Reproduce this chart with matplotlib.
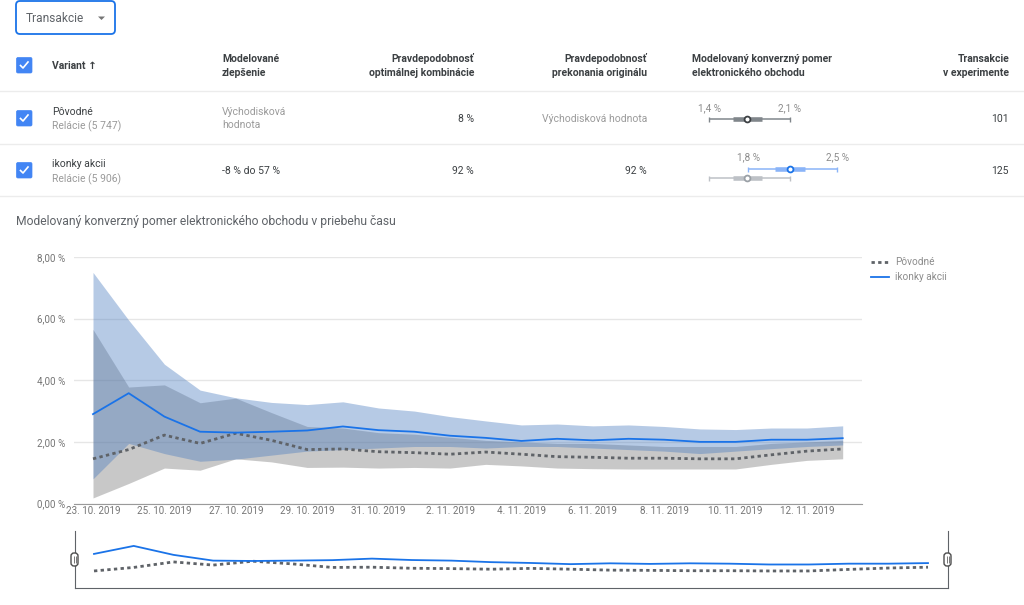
import numpy as np
import matplotlib.pyplot as plt
from matplotlib.patches import FancyBboxPatch

plt.rcParams['font.family'] = ['Roboto', 'DejaVu Sans']

W, H = 1024, 605  # size of the screenshot in pixels

# values, one per day from 23. 10. 2019
povodne = [1.45, 1.75, 2.22, 1.95, 2.28, 2.05, 1.75, 1.77, 1.68, 1.65, 1.60,
           1.67, 1.60, 1.52, 1.50, 1.47, 1.47, 1.45, 1.45, 1.58, 1.70, 1.77]
povodne_up = [5.65, 3.78, 3.85, 3.27, 3.42, 2.95, 2.50, 2.45, 2.30, 2.25, 2.15,
              2.05, 2.00, 1.95, 1.95, 1.90, 1.85, 1.85, 1.85, 1.95, 2.00, 2.05]
povodne_low = [0.18, 0.65, 1.15, 1.08, 1.45, 1.35, 1.17, 1.18, 1.15, 1.17, 1.15,
               1.27, 1.22, 1.15, 1.13, 1.12, 1.12, 1.12, 1.12, 1.27, 1.40, 1.45]
ikonky = [2.90, 3.58, 2.82, 2.33, 2.30, 2.33, 2.37, 2.50, 2.38, 2.33, 2.20,
          2.13, 2.03, 2.10, 2.05, 2.10, 2.07, 2.00, 2.00, 2.07, 2.07, 2.12]
ikonky_up = [7.50, 5.95, 4.52, 3.68, 3.43, 3.28, 3.21, 3.30, 3.10, 3.00, 2.82,
             2.68, 2.55, 2.58, 2.52, 2.55, 2.50, 2.42, 2.40, 2.45, 2.45, 2.52]
ikonky_low = [0.80, 1.95, 1.62, 1.37, 1.44, 1.57, 1.70, 1.75, 1.80, 1.85, 1.85,
              1.80, 1.85, 1.85, 1.80, 1.75, 1.70, 1.62, 1.70, 1.78, 1.85, 1.90]
dates = ["23. 10. 2019", "25. 10. 2019", "27. 10. 2019", "29. 10. 2019", "31. 10. 2019",
         "2. 11. 2019", "4. 11. 2019", "6. 11. 2019", "8. 11. 2019", "10. 11. 2019", "12. 11. 2019"]

# text of the table: x, y, text, align, color, weight
GREY = '#9a9a9a'
DARK = '#3c4043'
table_text = [
    (52, 65, "Variant ↑", 'left', DARK, 'bold'),
    (222, 58, "Modelované", 'left', DARK, 'bold'),
    (222, 72, "zlepšenie", 'left', DARK, 'bold'),
    (474, 58, "Pravdepodobnosť", 'right', DARK, 'bold'),
    (474, 72, "optimálnej kombinácie", 'right', DARK, 'bold'),
    (647, 58, "Pravdepodobnosť", 'right', DARK, 'bold'),
    (647, 72, "prekonania originálu", 'right', DARK, 'bold'),
    (692, 58, "Modelovaný konverzný pomer", 'left', DARK, 'bold'),
    (692, 72, "elektronického obchodu", 'left', DARK, 'bold'),
    (1009, 58, "Transakcie", 'right', DARK, 'bold'),
    (1009, 72, "v experimente", 'right', DARK, 'bold'),
    (52, 111, "Pôvodné", 'left', DARK, 'normal'),
    (52, 125, "Relácie (5 747)", 'left', GREY, 'normal'),
    (222, 111, "Východisková", 'left', GREY, 'normal'),
    (222, 124, "hodnota", 'left', GREY, 'normal'),
    (474, 118, "8 %", 'right', DARK, 'normal'),
    (647, 118, "Východisková hodnota", 'right', GREY, 'normal'),
    (1009, 118, "101", 'right', DARK, 'normal'),
    (52, 163, "ikonky akcii", 'left', DARK, 'normal'),
    (52, 178, "Relácie (5 906)", 'left', GREY, 'normal'),
    (222, 170, "-8 % do 57 %", 'left', DARK, 'normal'),
    (474, 170, "92 %", 'right', DARK, 'normal'),
    (647, 170, "92 %", 'right', DARK, 'normal'),
    (1009, 170, "125", 'right', DARK, 'normal'),
]

# intervals of the small range plots: low, q1, median, q3, high, y row, line, box, edge
intervals = [
    (1.40, 1.61, 1.73, 1.86, 2.10, 119, '#80868b', '#80868b', '#3c4043'),
    (1.74, 1.97, 2.10, 2.23, 2.51, 169, '#8ab4f8', '#8ab4f8', '#1a73e8'),
    (1.40, 1.61, 1.73, 1.86, 2.10, 178, '#bdc1c6', '#bdc1c6', '#9aa0a6'),
]


def axes_px(left, top, right, bottom):
    # axes given in pixels of the screenshot, y going down
    return plt.axes([left / W, 1 - bottom / H, (right - left) / W, (bottom - top) / H])


def draw_table():
    """
    Dropdown, checkboxes, separators and text above the chart.
    """
    ax = axes_px(0, 0, W, H)
    plt.xlim(0, W)
    plt.ylim(H, 0)
    plt.axis('off')

    ax.add_patch(FancyBboxPatch((16, 1), 99, 33, boxstyle="round,pad=0,rounding_size=4",
                                fc='white', ec='#1a73e8', lw=1.3))
    plt.text(26, 18, "Transakcie", fontsize=8.6, color='#5f6368', va='center')
    plt.fill([98, 105, 101.5], [16.5, 16.5, 20], color='#757575', lw=0)

    for y in [91, 144, 196]:
        plt.plot([0, W], [y, y], color='#ececec', lw=1)  # row separators

    for y in [57, 110, 162]:
        ax.add_patch(FancyBboxPatch((16.5, y + 0.5), 15.5, 15.5, boxstyle="round,pad=0,rounding_size=1.5",
                                    fc='#4285f4', ec='#4285f4', lw=0.5))
        plt.plot([20.5, 23, 28], [y + 8.5, y + 11, y + 5], color='white', lw=1.2)

    for x, y, s, ha, color, weight in table_text:
        plt.text(x, y + 0.8, s, fontsize=7.5, ha=ha, va='center', color=color, fontweight=weight)

    plt.text(16, 221, "Modelovaný konverzný pomer elektronického obchodu v priebehu času",
             fontsize=8.7, color='#5f6368', va='center')

    # legend of the chart
    plt.plot([871, 889], [262, 262], color='#5f6368', lw=2, linestyle=(0, (1.2, 1.2)))
    plt.plot([871, 889], [277, 277], color='#1a73e8', lw=1.3)
    plt.text(895, 262, "Pôvodné", fontsize=7.2, color='#8c8c8c', va='center')
    plt.text(895, 277, "ikonky akcii", fontsize=7.2, color='#8c8c8c', va='center')


def draw_intervals():
    """
    Small range plots of the table, x axis in percent.
    """
    scale = 115.7  # pixels for 1 %
    axes_px(700, 100, 850, 190)
    plt.xlim(1.4 - 9 / scale, 1.4 + 141 / scale)
    plt.ylim(190, 100)
    plt.axis('off')
    for low, q1, med, q3, high, y, line, box, edge in intervals:
        plt.hlines(y, low, high, color=line, lw=1.1)
        plt.vlines([low, high], y - 2.5, y + 2.5, color=line, lw=1)
        plt.hlines(y, q1, q3, color=box, lw=3.3)
        plt.plot(med, y, 'o', ms=4.2, mfc='white', mec=edge, mew=1.3)
    for val, label, y in [(1.4, "1,4 %", 108), (2.1, "2,1 %", 108), (1.74, "1,8 %", 157), (2.51, "2,5 %", 157)]:
        plt.text(val, y, label, fontsize=7.2, ha='center', va='center', color='#8c8c8c')


def draw_main():
    """
    Chart with the two bands and the two lines.
    """
    days = np.arange(len(povodne))
    axes_px(74, 257, 862, 503.5)
    plt.fill_between(days, povodne_low, povodne_up, color='#646464', alpha=0.35, lw=0)
    plt.fill_between(days, ikonky_low, ikonky_up, color='#4a7cc0', alpha=0.4, lw=0)
    plt.plot(days, povodne, color='#5f6368', lw=2, linestyle=(0, (1.2, 1.2)))
    plt.plot(days, ikonky, color='#1a73e8', lw=1.3)

    plt.xlim(-19 / 35.7, 769 / 35.7)
    plt.ylim(0, 8)
    plt.yticks([0, 2, 4, 6, 8], ["0,00 %", "2,00 %", "4,00 %", "6,00 %", "8,00 %"])
    plt.xticks(days[::2], dates)
    plt.tick_params(length=0, labelsize=7.1, labelcolor='#757575')
    plt.tick_params(axis='x', pad=1.5)
    plt.tick_params(axis='y', pad=6.5)
    plt.grid(axis='y', color='#e6e6e6', lw=1)
    plt.gca().set_axisbelow(True)
    for side in ['top', 'left', 'right']:
        plt.gca().spines[side].set_visible(False)
    plt.gca().spines['bottom'].set_color('#9a9a9a')


def draw_overview():
    """
    Range selector below the chart.
    """
    days = np.arange(len(povodne))
    scale = 834 / 21  # pixels for one day
    axes_px(75, 531, 947.5, 588)
    plt.plot(days, povodne, color='#5f6368', lw=2, linestyle=(0, (1.2, 1.2)))
    plt.plot(days, ikonky, color='#1a73e8', lw=1.3)
    plt.xlim(-19 / scale, 853.5 / scale)
    plt.ylim(0, 4.85)
    plt.xticks([])
    plt.yticks([])
    plt.gca().spines['top'].set_visible(False)
    for side in ['left', 'right', 'bottom']:
        plt.gca().spines[side].set_color('#5f6368')

    # handles of the selector
    ax = axes_px(0, 0, W, H)
    plt.xlim(0, W)
    plt.ylim(H, 0)
    plt.axis('off')
    for x in [74.5, 947.5]:
        ax.add_patch(FancyBboxPatch((x - 3.5, 553), 7, 13, boxstyle="round,pad=0,rounding_size=3",
                                    fc='white', ec='#4d4d4d', lw=1))
        plt.vlines([x - 1, x + 1], 556, 563, color='#777777', lw=0.7)


# ------------------ MAIN ------------------
if __name__ == "__main__":
    plt.figure(figsize=(W / 100, H / 100), dpi=100)

    draw_table()
    draw_intervals()
    draw_main()
    draw_overview()

    plt.savefig("out.png", dpi=100)
